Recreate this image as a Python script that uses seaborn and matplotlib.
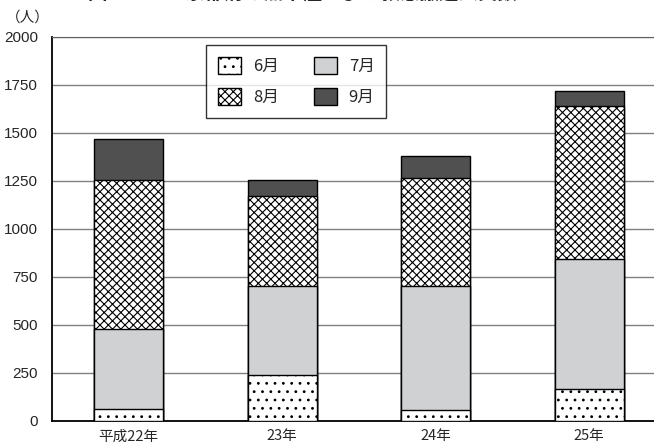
import numpy as np
import seaborn as sns
from matplotlib import pyplot as plt
from matplotlib.patches import Patch

years = ['平成22年', '23年', '24年', '25年']
months = ['6月', '7月', '8月', '9月']
jun = [60, 240, 55, 165]
jul = [420, 465, 650, 678]
aug = [773, 467, 560, 800]
sep = [215, 83, 117, 75]

colors = ['white', '#d0d1d3', 'white', '#505050']
hatches = ['..', '', 'xxxx', '']

sns.set_style('white')
plt.rcParams['font.family'] = ['Liberation Sans', 'Noto Sans CJK JP']
plt.rcParams['hatch.linewidth'] = 0.8
plt.rcParams['hatch.color'] = '#222222'

fig = plt.figure(figsize=(6.54, 4.46), dpi=100)
ax = fig.add_axes([52/654, 25/446, 614/654, 384/446])

cum = np.cumsum(np.array([jun, jul, aug, sep]), axis=0)
# draw from the top layer down so each lower segment covers the one above
for i in range(3, -1, -1):
    sns.barplot(x=years, y=cum[i], color=colors[i], saturation=1, width=0.45,
                edgecolor='black', linewidth=1, ax=ax, zorder=3)
    for p in ax.containers[-1]:
        p.set_facecolor(colors[i])
        p.set_hatch(hatches[i])

ax.set_xlim(-0.5, 3.5)
ax.set_ylim(0, 2000)
ax.set_yticks(np.arange(0, 2001, 250))
ax.tick_params(axis='y', length=0, pad=10, labelsize=11)
ax.set_xticks(range(4))
ax.set_xticklabels(years, family=['Noto Sans CJK JP'], fontsize=10.5)
ax.tick_params(axis='x', which='major', length=0, pad=6)
ax.set_xticks([0.5, 1.5, 2.5], minor=True)
ax.tick_params(axis='x', which='minor', direction='in', length=9, width=1, color='#555555')
ax.yaxis.grid(True, color='#808080', linewidth=1)
ax.set_axisbelow(True)
ax.set_xlabel('')
ax.set_ylabel('')
for s in ['left', 'bottom']:
    ax.spines[s].set_color('black')
    ax.spines[s].set_linewidth(1.3)
ax.spines['top'].set_color('#606060')
ax.spines['right'].set_visible(False)

handles = [Patch(facecolor=colors[i], hatch=hatches[i], edgecolor='black', linewidth=1)
           for i in [0, 2, 1, 3]]
labels = [months[i] for i in [0, 2, 1, 3]]
leg = ax.legend(handles, labels, ncol=2, loc='upper left', bbox_to_anchor=(0.251, 0.979),
                borderaxespad=0, fancybox=False, frameon=True, edgecolor='black',
                prop={'family': ['Noto Sans CJK JP'], 'size': 12},
                handlelength=1.4, handleheight=1.2, columnspacing=2.1,
                borderpad=0.7, labelspacing=0.8, handletextpad=0.7)
leg.get_frame().set_linewidth(1)
leg.set_zorder(5)

fig.text(6/654, 1 - 18/446, '（人）', family=['Noto Sans CJK JP'], fontsize=10.5, va='center')
fig.text(88/654, 1 + 1/446, '図　　　　京都府の熱中症による救急搬送人員数',
         family=['Noto Sans CJK JP'], fontsize=14, fontweight='bold', va='baseline')

fig.savefig('out.png', dpi=100)
